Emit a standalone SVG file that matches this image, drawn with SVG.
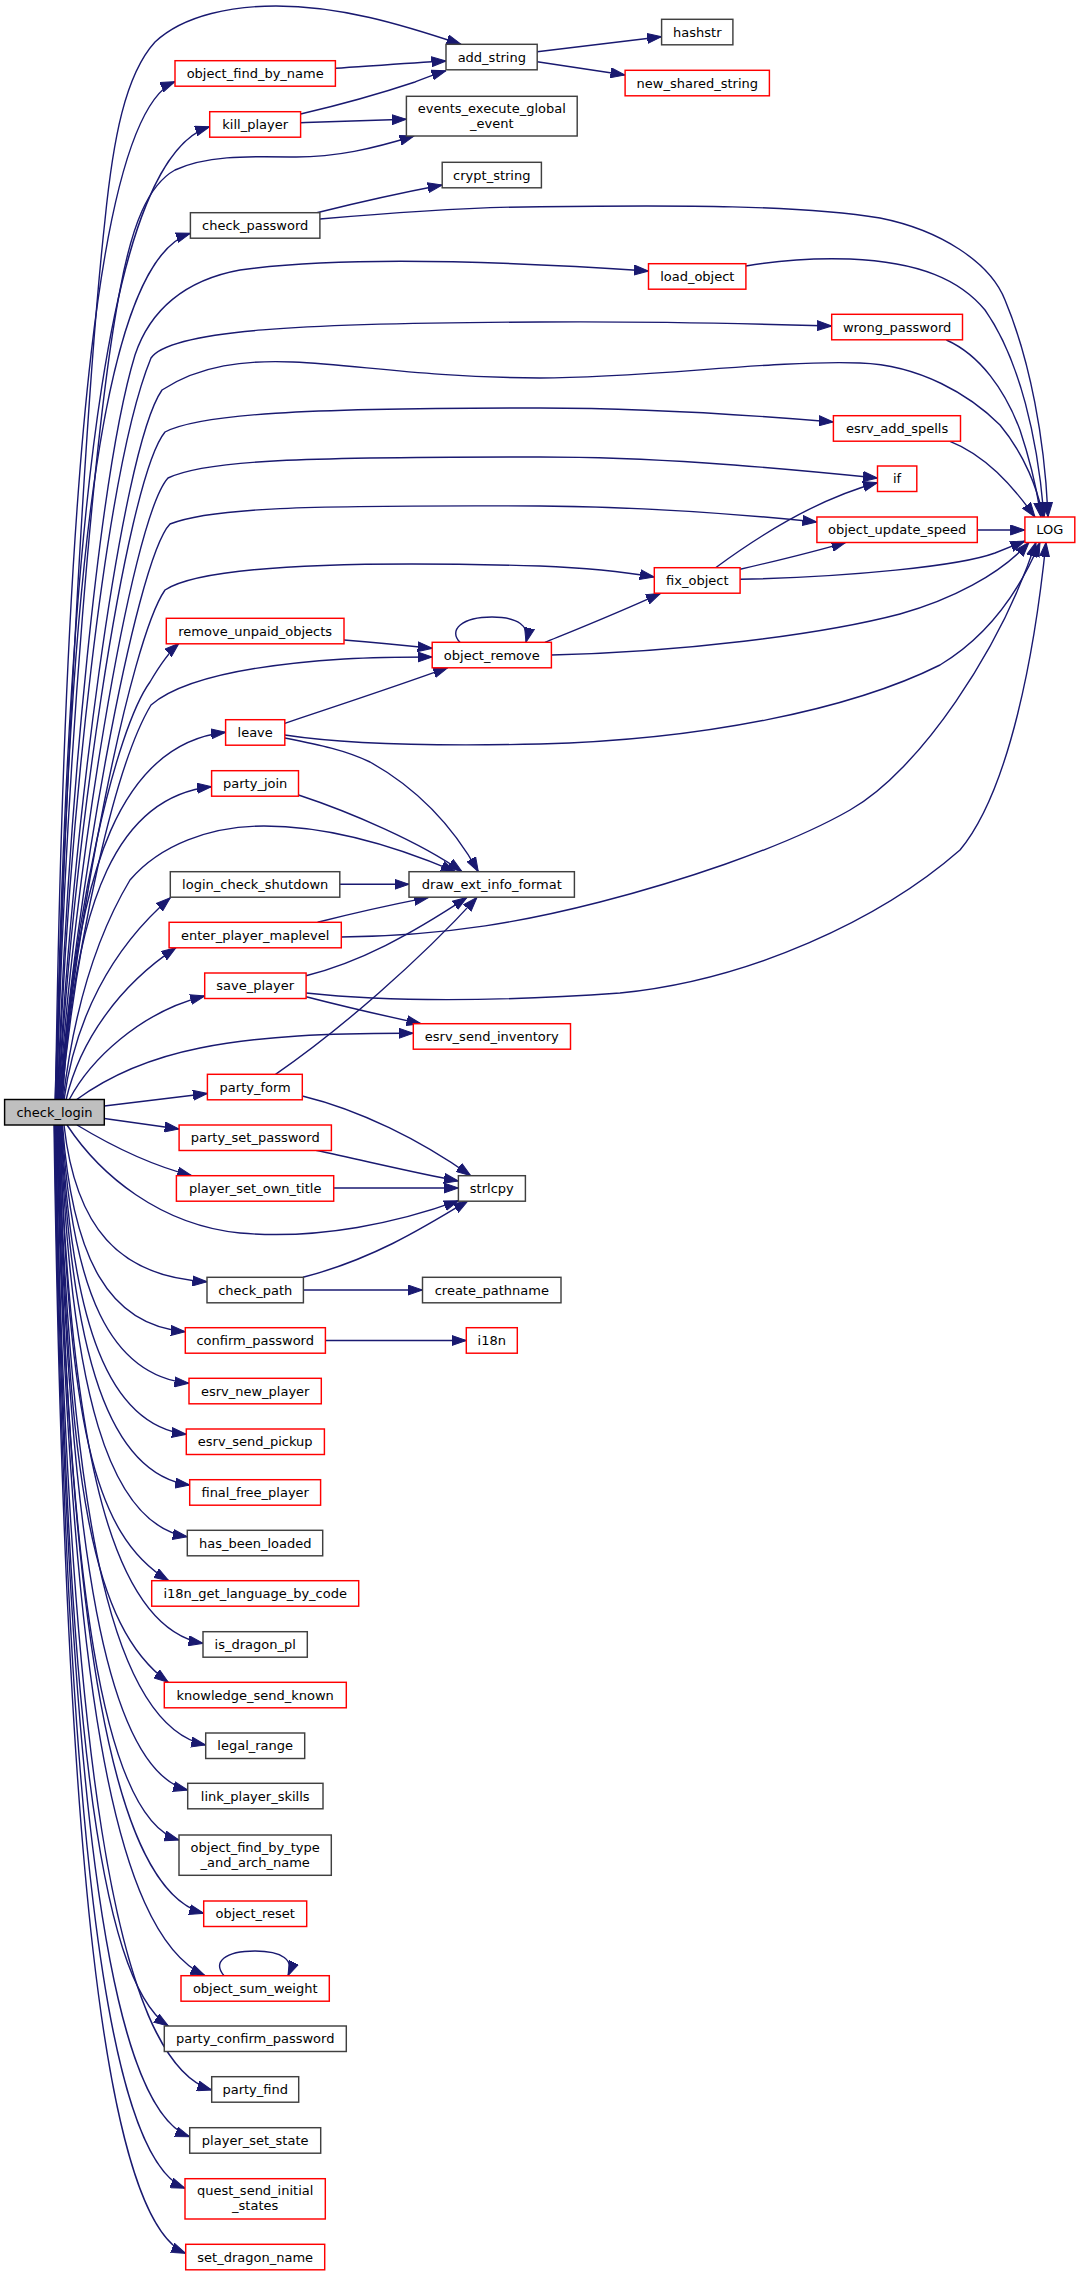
<svg xmlns="http://www.w3.org/2000/svg" width="1080" height="2276" viewBox="0 0 1080 2276">
<defs>
<marker id="a" markerUnits="userSpaceOnUse" markerWidth="15" markerHeight="11" refX="14.5" refY="5" orient="auto" viewBox="0 0 15 10">
<path d="M0,0 L14.5,5 L0,10 z" fill="#191970" stroke="#191970" stroke-width="1"/>
</marker>
<style>
.n rect{fill:#ffffff;stroke:#404040;stroke-width:1.45}
.r rect{stroke:#ff0000}
.root rect{fill:#bfbfbf;stroke:#000000}
text{font-family:"DejaVu Sans","Liberation Sans",sans-serif;font-size:13px;text-anchor:middle;fill:#000000}
.e path{fill:none;stroke:#191970;stroke-width:1.4;marker-end:url(#a)}
</style>
</defs>
<rect x="0" y="0" width="1080" height="2276" fill="#ffffff"/>
<g id="edges" class="e">
<path d="M 55,1100 C 65,800 85,400 105,220 C 113,140 125,75 155,42 C 185,14 235,6 276,6 C 340,6 400,24 461,44.3"/>
<path d="M 55.5,1100 C 65.1,438.1 100.9,112.2 175,81.7"/>
<path d="M 56,1100 C 68.3,467.4 114.4,155.9 209.7,126.7"/>
<path d="M 56.5,1100 C 66,760 95,420 120,290 C 132,225 148,185 175,170 C 205,156 245,156 290,157 C 335,158 375,148 414,136"/>
<path d="M 57,1100 C 67.7,536.6 107.7,259.3 190.4,233.3"/>
<path d="M 57.5,1100 C 68,800 100,470 135,355 C 150,310 185,280 240,270 C 340,256 500,261 648.5,271"/>
<path d="M 58,1100 C 68,830 105,470 151,358 C 170,330 300,323 540,322 C 660,321 760,324 831.7,326"/>
<path d="M 58.5,1100 C 70,850 120,450 162,390 C 200,365 245,360 293,362 C 360,365 420,377 540,378 C 650,378 770,360 860,363 C 920,365 970,395 1000,425 C 1025,455 1038,490 1043,517"/>
<path d="M 59,1100 C 70,870 125,480 165,432 C 200,414 300,408 540,408 C 650,408 750,415 833.4,422"/>
<path d="M 59.5,1100 C 72,890 130,520 168,478 C 205,460 300,457 540,457 C 650,457 760,466 877.5,478"/>
<path d="M 60,1100 C 73,910 135,560 170,524 C 210,508 300,505 540,506 C 650,507 740,514 817,522"/>
<path d="M 60.5,1100 C 74,930 130,640 165,590 C 200,567 330,560 540,566 C 590,568 625,572 654.3,577"/>
<path d="M 61,1100 C 72,920 115,730 150,682 C 160,665 168,653 179,643.3"/>
<path d="M 61.5,1100 C 76,940 115,765 151,705 C 180,680 250,665 344,659 C 380,657 410,657 432.2,657"/>
<path d="M 62,1100 C 75.1,861 124.2,743.3 225.6,732.3"/>
<path d="M 62.5,1100 C 74.4,896.4 119.2,796.1 211.6,786.7"/>
<path d="M 63,1100 C 75,1000 100,930 130,880 C 160,845 210,826 264,826 C 330,826 400,848 455.4,871.7"/>
<path d="M 64,1100 C 75,1020 110,950 170.3,897.7"/>
<path d="M 66,1100 C 80,1040 120,985 176,947.7"/>
<path d="M 69,1100 C 90,1060 140,1012 204.7,996"/>
<path d="M 76,1100 C 110,1075 150,1058 200,1048 C 260,1036 330,1033 413.3,1033.3"/>
<path d="M 104.3,1106 L 207.4,1093.5"/>
<path d="M 104.3,1118.5 L 179.1,1129"/>
<path d="M 77,1125 C 110,1145 150,1165 191.7,1175.7"/>
<path d="M 67,1125 C 100,1175 160,1225 240,1233 C 320,1240 400,1222 458.4,1200.7"/>
<path d="M 64,1125 C 75.4,1226.9 118.3,1277 207,1281.7"/>
<path d="M 62.5,1125 C 72.3,1259.4 109.2,1325.5 185.3,1331.7"/>
<path d="M 62,1125 C 72.2,1292.9 110.3,1375.6 189,1383.3"/>
<path d="M 61.5,1125 C 71.5,1326 108.9,1425 186.3,1434.3"/>
<path d="M 61,1125 C 71.3,1359 109.9,1474.2 189.7,1485"/>
<path d="M 60.5,1125 C 70.6,1392.6 108.7,1524.4 187.3,1536.7"/>
<path d="M 60,1125 C 68.7,1421.2 92.6,1535.1 168.7,1580.7"/>
<path d="M 59.5,1125 C 71,1461.9 114,1627.8 203,1643.3"/>
<path d="M 59,1125 C 67.7,1487.2 91.8,1626.6 168.3,1682.3"/>
<path d="M 58.5,1125 C 70.3,1528 114.4,1726.4 205.7,1745"/>
<path d="M 58,1125 C 68.4,1557.3 107.3,1770 187.7,1790"/>
<path d="M 57.5,1125 C 67.2,1589.8 103.7,1818.6 179,1840"/>
<path d="M 57,1125 C 68.7,1637.4 112.7,1889.7 203.7,1913.3"/>
<path d="M 56.5,1125 C 68.4,1678 112.9,1933 205,1975.7"/>
<path d="M 56,1125 C 65,1710.7 98.7,1980 168.3,2026"/>
<path d="M 55.5,1125 C 68,1752 114.9,2061 211.7,2090"/>
<path d="M 55,1125 C 65.8,1782.6 106.2,2106.4 189.7,2136.7"/>
<path d="M 54.5,1125 C 65,1816 104.1,2156.4 185,2188.3"/>
<path d="M 54,1125 C 64.5,1858.4 104,2219.5 185.7,2253.3"/>
<path d="M 335.4,68.3 C 370,66 410,63 446,61"/>
<path d="M 300.6,114 C 335,106 385,92 415,82 C 428,77 437,73.5 446,70.7"/>
<path d="M 300.6,122.7 C 340,121.5 380,120 406.4,119.3"/>
<path d="M 537.2,51.7 L 661.6,36.7"/>
<path d="M 537.2,61.7 L 625.1,75"/>
<path d="M 316.8,212.7 C 360,202 400,193 442.2,185"/>
<path d="M 319.9,219 C 400,212 470,207 540,206.7 C 680,205 800,205 880,218 C 940,230 990,262 1005,300 C 1030,360 1045,440 1048,517"/>
<path d="M 745.9,266 C 780,260 820,258 850,259 C 920,262 960,280 985,310 C 1020,360 1038,440 1044,517"/>
<path d="M 946.4,340 C 980,355 1005,390 1020,430 C 1030,460 1037,490 1041,517"/>
<path d="M 950,441.3 C 985,455 1012,485 1035,517"/>
<path d="M 977.3,530 L 1024.9,530"/>
<path d="M 740.1,579.3 C 850,577 960,566 995,553 C 1005,549 1015,545 1024.9,541"/>
<path d="M 715.6,567.7 C 760,535 820,498 877.5,482.7"/>
<path d="M 740.1,569.3 C 780,560 820,550 846,542.3"/>
<path d="M 545,642.3 C 580,628 620,612 660.5,593.3"/>
<path d="M 551.4,655 C 680,652 820,635 900,614 C 950,600 1000,575 1029,542.3"/>
<path d="M 460,642.3 C 448,630 462,617 492,617 C 518,617 530,626 526,642.3"/>
<path d="M 344,640 C 380,643 410,646 432.2,648.3"/>
<path d="M 284.8,723.3 C 340,705 400,685 447.7,667.7"/>
<path d="M 284.8,735 C 350,745 450,746 540,744 C 700,740 850,710 940,665 C 990,635 1020,590 1040,542.3"/>
<path d="M 284.8,738 C 320,745 345,750 370,762 C 420,790 455,830 478.3,871.7"/>
<path d="M 298.5,795 C 350,812 420,842 462,871.7"/>
<path d="M 339.8,884.3 L 409,884.3"/>
<path d="M 317.6,922.3 C 350,914 390,905 428.6,897.4"/>
<path d="M 341.3,937 C 450,936 530,920 600,902 C 670,884 780,850 850,810 C 920,770 1000,650 1036,542.3"/>
<path d="M 306,975.7 C 360,962 410,935 467,897.4"/>
<path d="M 306.1,993 C 400,1003 520,1000 620,993 C 750,980 880,920 960,850 C 1010,790 1035,650 1046,542.3"/>
<path d="M 306.1,996.7 C 350,1008 390,1017 421,1023.7"/>
<path d="M 275.5,1074.3 C 340,1030 420,960 477,897.4"/>
<path d="M 302.3,1096 C 360,1110 420,1140 470.7,1175.7"/>
<path d="M 315.7,1150.3 C 370,1162 420,1174 458.4,1181"/>
<path d="M 333.7,1188 L 458.4,1188"/>
<path d="M 303,1277.3 C 370,1260 420,1230 468,1200.7"/>
<path d="M 303.4,1290 L 422.5,1290"/>
<path d="M 325.4,1340.5 L 466.3,1340.5"/>
<path d="M 224,1975.7 C 212,1962 225,1951 255,1951 C 282,1951 295,1960 288,1975.7"/>
</g>
<g id="check_login" class="n root"><rect x="4.6" y="1099.5" width="99.7" height="25.5"/><text x="54.5" y="1116.8">check_login</text></g>
<g id="object_find_by_name" class="n r"><rect x="175" y="60.7" width="160.4" height="25.5"/><text x="255.2" y="78">object_find_by_name</text></g>
<g id="kill_player" class="n r"><rect x="209.7" y="111.7" width="90.9" height="25.5"/><text x="255.2" y="129">kill_player</text></g>
<g id="check_password" class="n"><rect x="190.4" y="212.7" width="129.5" height="25.5"/><text x="255.2" y="230">check_password</text></g>
<g id="remove_unpaid_objects" class="n r"><rect x="166.3" y="618.3" width="177.7" height="25.5"/><text x="255.2" y="635.6">remove_unpaid_objects</text></g>
<g id="leave" class="n r"><rect x="225.6" y="719.7" width="59.2" height="25.5"/><text x="255.2" y="737">leave</text></g>
<g id="party_join" class="n r"><rect x="211.6" y="770.7" width="86.9" height="25.5"/><text x="255.2" y="788">party_join</text></g>
<g id="login_check_shutdown" class="n"><rect x="170.3" y="871.7" width="169.5" height="25.5"/><text x="255.2" y="889">login_check_shutdown</text></g>
<g id="enter_player_maplevel" class="n r"><rect x="169.1" y="922.3" width="172.2" height="25.5"/><text x="255.2" y="939.6">enter_player_maplevel</text></g>
<g id="save_player" class="n r"><rect x="204.7" y="973" width="101.4" height="25.5"/><text x="255.2" y="990.3">save_player</text></g>
<g id="party_form" class="n r"><rect x="207.4" y="1074.3" width="94.9" height="25.5"/><text x="255.2" y="1091.6">party_form</text></g>
<g id="party_set_password" class="n r"><rect x="179.1" y="1125" width="152.3" height="25.5"/><text x="255.2" y="1142.3">party_set_password</text></g>
<g id="player_set_own_title" class="n r"><rect x="176.4" y="1175.7" width="157.3" height="25.5"/><text x="255.2" y="1193">player_set_own_title</text></g>
<g id="check_path" class="n"><rect x="207" y="1277.3" width="96.4" height="25.5"/><text x="255.2" y="1294.6">check_path</text></g>
<g id="confirm_password" class="n r"><rect x="185.3" y="1327.7" width="140.1" height="25.5"/><text x="255.2" y="1345">confirm_password</text></g>
<g id="esrv_new_player" class="n r"><rect x="189" y="1378.3" width="132.3" height="25.5"/><text x="255.2" y="1395.6">esrv_new_player</text></g>
<g id="esrv_send_pickup" class="n r"><rect x="186.3" y="1429" width="138.1" height="25.5"/><text x="255.2" y="1446.3">esrv_send_pickup</text></g>
<g id="final_free_player" class="n r"><rect x="189.7" y="1479.7" width="130.9" height="25.5"/><text x="255.2" y="1497">final_free_player</text></g>
<g id="has_been_loaded" class="n"><rect x="187.3" y="1530.3" width="135.4" height="25.5"/><text x="255.2" y="1547.6">has_been_loaded</text></g>
<g id="i18n_get_language_by_code" class="n r"><rect x="151.7" y="1580.7" width="207" height="25.5"/><text x="255.2" y="1598">i18n_get_language_by_code</text></g>
<g id="is_dragon_pl" class="n"><rect x="203" y="1631.7" width="104.3" height="25.5"/><text x="255.2" y="1649">is_dragon_pl</text></g>
<g id="knowledge_send_known" class="n r"><rect x="164.3" y="1682.3" width="182" height="25.5"/><text x="255.2" y="1699.6">knowledge_send_known</text></g>
<g id="legal_range" class="n"><rect x="205.7" y="1733" width="99" height="25.5"/><text x="255.2" y="1750.3">legal_range</text></g>
<g id="link_player_skills" class="n"><rect x="187.7" y="1783.3" width="135.3" height="25.5"/><text x="255.2" y="1800.6">link_player_skills</text></g>
<g id="object_find_by_type_and_arch_name" class="n"><rect x="179" y="1835" width="152.3" height="40.3"/><text x="255.2" y="1851.7">object_find_by_type</text><text x="255.2" y="1866.7">_and_arch_name</text></g>
<g id="object_reset" class="n r"><rect x="203.7" y="1901" width="103" height="25.5"/><text x="255.2" y="1918.3">object_reset</text></g>
<g id="object_sum_weight" class="n r"><rect x="181" y="1975.7" width="148.3" height="25.5"/><text x="255.2" y="1993">object_sum_weight</text></g>
<g id="party_confirm_password" class="n"><rect x="164.3" y="2026" width="182" height="25.5"/><text x="255.2" y="2043.3">party_confirm_password</text></g>
<g id="party_find" class="n"><rect x="211.7" y="2076.7" width="87" height="25.5"/><text x="255.2" y="2094">party_find</text></g>
<g id="player_set_state" class="n"><rect x="189.7" y="2127.7" width="131" height="25.5"/><text x="255.2" y="2145">player_set_state</text></g>
<g id="quest_send_initial_states" class="n r"><rect x="185" y="2178.7" width="140.3" height="40.3"/><text x="255.2" y="2195.3">quest_send_initial</text><text x="255.2" y="2210.3">_states</text></g>
<g id="set_dragon_name" class="n r"><rect x="185.7" y="2244.3" width="139" height="25.5"/><text x="255.2" y="2261.6">set_dragon_name</text></g>
<g id="add_string" class="n"><rect x="446" y="44.3" width="91.2" height="25.5"/><text x="491.8" y="61.6">add_string</text></g>
<g id="events_execute_global_event" class="n"><rect x="406.4" y="96.3" width="170.8" height="39.7"/><text x="491.8" y="112.7">events_execute_global</text><text x="491.8" y="127.7">_event</text></g>
<g id="crypt_string" class="n"><rect x="442.2" y="162.3" width="99.2" height="25.5"/><text x="491.8" y="179.6">crypt_string</text></g>
<g id="object_remove" class="n r"><rect x="432.2" y="642.3" width="119.2" height="25.5"/><text x="491.8" y="659.6">object_remove</text></g>
<g id="draw_ext_info_format" class="n"><rect x="409" y="871.7" width="165.4" height="25.5"/><text x="491.8" y="889">draw_ext_info_format</text></g>
<g id="esrv_send_inventory" class="n r"><rect x="413.3" y="1023.7" width="157.2" height="25.5"/><text x="491.8" y="1041">esrv_send_inventory</text></g>
<g id="strlcpy" class="n"><rect x="458.4" y="1175.7" width="67" height="25.5"/><text x="491.8" y="1193">strlcpy</text></g>
<g id="create_pathname" class="n"><rect x="422.5" y="1277.3" width="138.5" height="25.5"/><text x="491.8" y="1294.6">create_pathname</text></g>
<g id="i18n" class="n r"><rect x="466.3" y="1327.7" width="51" height="25.5"/><text x="491.8" y="1345">i18n</text></g>
<g id="hashstr" class="n"><rect x="661.6" y="19.3" width="71.3" height="25.5"/><text x="697.3" y="36.6">hashstr</text></g>
<g id="new_shared_string" class="n r"><rect x="625.1" y="70.3" width="144.3" height="25.5"/><text x="697.3" y="87.6">new_shared_string</text></g>
<g id="load_object" class="n r"><rect x="648.5" y="263.7" width="97.4" height="25.5"/><text x="697.3" y="281">load_object</text></g>
<g id="fix_object" class="n r"><rect x="654.3" y="567.7" width="85.8" height="25.5"/><text x="697.3" y="585">fix_object</text></g>
<g id="wrong_password" class="n r"><rect x="831.7" y="314.3" width="130.8" height="25.5"/><text x="897.1" y="331.6">wrong_password</text></g>
<g id="esrv_add_spells" class="n r"><rect x="833.4" y="415.7" width="127.1" height="25.5"/><text x="897.1" y="433">esrv_add_spells</text></g>
<g id="if" class="n r"><rect x="877.5" y="466" width="39.3" height="25.5"/><text x="897.1" y="483.3">if</text></g>
<g id="object_update_speed" class="n r"><rect x="816.9" y="517" width="160.4" height="25.5"/><text x="897.1" y="534.3">object_update_speed</text></g>
<g id="LOG" class="n r"><rect x="1024.9" y="517" width="49.9" height="25.5"/><text x="1049.9" y="534.3">LOG</text></g>
</svg>
